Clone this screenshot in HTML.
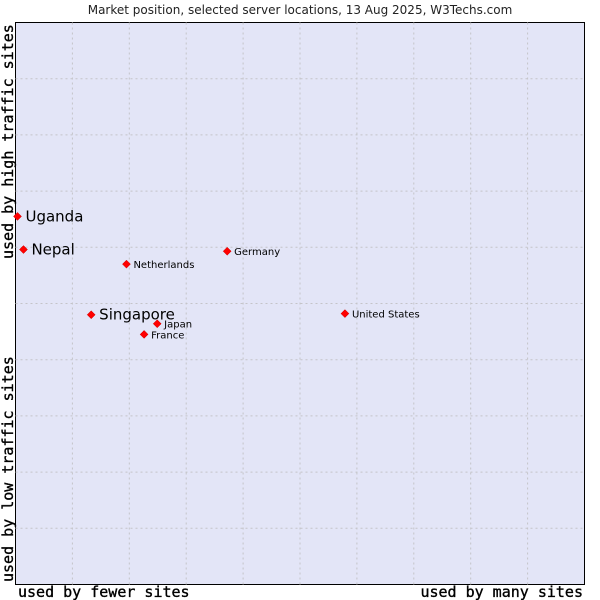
<!DOCTYPE html>
<html><head><meta charset="utf-8"><style>
body{margin:0;background:#fff;width:600px;height:600px;overflow:hidden}
svg{display:block}
</style></head><body>
<svg width="600" height="600" xmlns="http://www.w3.org/2000/svg">
<text x="300" y="14" text-anchor="middle" font-family="DejaVu Sans, sans-serif" font-size="12" fill="#222">Market position, selected server locations, 13 Aug 2025, W3Techs.com</text>
<rect x="15.5" y="22.5" width="569" height="562" fill="#e3e5f7" stroke="#000" stroke-width="1"/>
<g id="grid"></g>
<g id="pts"></g>
<text x="18" y="597" font-family="DejaVu Sans Mono, Liberation Mono, monospace" font-size="15" stroke="#000" stroke-width="0.35" fill="#000">used by fewer sites</text>
<text x="583" y="597" text-anchor="end" font-family="DejaVu Sans Mono, Liberation Mono, monospace" font-size="15" stroke="#000" stroke-width="0.35" fill="#000">used by many sites</text>
<text transform="translate(13,259) rotate(-90)" font-family="DejaVu Sans Mono, Liberation Mono, monospace" font-size="15" stroke="#000" stroke-width="0.35" fill="#000">used by high traffic sites</text>
<text transform="translate(13,582) rotate(-90)" font-family="DejaVu Sans Mono, Liberation Mono, monospace" font-size="15" stroke="#000" stroke-width="0.35" fill="#000">used by low traffic sites</text>
</svg>
<script>
const names=["Uganda","Nepal","Netherlands","Germany","Singapore","Japan","France","United States"];
const xVals=[0.35,1.4,19.5,37.2,13.3,24.9,22.6,57.9];
const yVals=[65.5,59.6,57.0,59.3,48.0,46.4,44.5,48.2];
const highlighted=[true,true,false,false,true,false,false,false];
const L=15.5,T=22.5,W=569,H=562;
const sx=v=>L+v/100*W, sy=v=>T+H-v/100*H;
const NS="http://www.w3.org/2000/svg";
const g=document.getElementById('grid');
for(let i=1;i<10;i++){
 const v=document.createElementNS(NS,'line');
 v.setAttribute('x1',sx(i*10));v.setAttribute('x2',sx(i*10));v.setAttribute('y1',T);v.setAttribute('y2',T+H);
 v.setAttribute('stroke','#c4c4c8');v.setAttribute('stroke-dasharray','2,3');
 
 
 g.appendChild(v);
 const h=document.createElementNS(NS,'line');
 h.setAttribute('y1',sy(i*10));h.setAttribute('y2',sy(i*10));h.setAttribute('x1',L);h.setAttribute('x2',L+W);
 h.setAttribute('stroke','#c4c4c8');h.setAttribute('stroke-dasharray','2,3');
 
 
 g.appendChild(h);
}
const p=document.getElementById('pts');
names.forEach((n,i)=>{
 const x=sx(xVals[i]),y=sy(yVals[i]);
 const d=document.createElementNS(NS,'path');
 d.setAttribute('d',`M${x-4},${y} L${x},${y-4} L${x+4},${y} L${x},${y+4} Z`);
 d.setAttribute('fill','#f00');d.setAttribute('stroke','#c00');d.setAttribute('stroke-width','0.5');
 
 
 p.appendChild(d);
 const t=document.createElementNS(NS,'text');
 const big=highlighted[i];
 t.setAttribute('x',x+(big?8:7));t.setAttribute('y',y+(big?5:4));
 t.setAttribute('font-family','DejaVu Sans, sans-serif');
 t.setAttribute('font-size',big?15:10);
 t.setAttribute('fill','#000');
 t.textContent=n;
 
 
 p.appendChild(t);
});
</script>
</body></html>
